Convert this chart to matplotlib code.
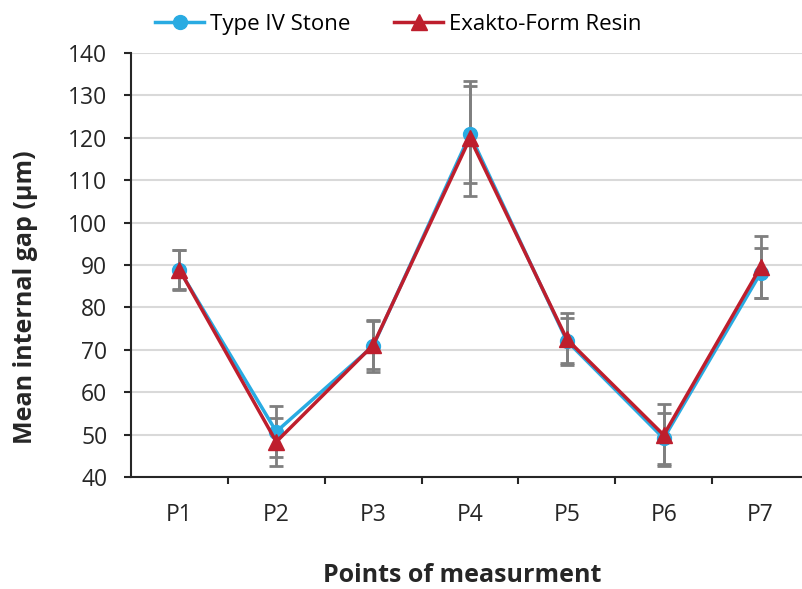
import numpy as np
import matplotlib.pyplot as plt
from matplotlib.ticker import FixedLocator

plt.rcParams['font.family'] = ['Open Sans', 'DejaVu Sans']

points = ['P1', 'P2', 'P3', 'P4', 'P5', 'P6', 'P7']
stone = [88.8, 50.7, 70.9, 120.8, 72.1, 49.1, 88.1]
stone_err = [4.7, 6.1, 6.1, 11.4, 5.3, 6.1, 5.8]
resin = [88.9, 48.3, 71.1, 119.9, 72.5, 49.9, 89.5]
resin_err = [4.6, 5.6, 5.6, 13.6, 6.1, 7.3, 7.3]

blue = '#29abe2'
red = '#be1e2d'
grey = '#7f7f7f'

fig = plt.figure(figsize=(8.03, 5.89), dpi=100)
ax = fig.add_axes([131 / 803, 1 - 477 / 589, 678 / 803, 424 / 589])

x = np.arange(len(points))

ax.errorbar(x, stone, yerr=stone_err, fmt='none', ecolor=grey, elinewidth=2,
            capsize=5, capthick=2, zorder=3)
ax.errorbar(x, resin, yerr=resin_err, fmt='none', ecolor=grey, elinewidth=2,
            capsize=5, capthick=2, zorder=3)
ax.plot(x, stone, color=blue, lw=2.5, marker='o', ms=10, label='Type IV Stone', zorder=4)
ax.plot(x, resin, color=red, lw=2.5, marker='^', ms=11, label='Exakto-Form Resin', zorder=5)

ax.set_xlim(-0.5, 6.5)
ax.set_ylim(40, 140)
ax.set_yticks(np.arange(40, 141, 10))
ax.set_xticks(x)
ax.set_xticklabels(points)
ax.xaxis.set_minor_locator(FixedLocator(np.arange(0.5, 6.5, 1)))
ax.tick_params(axis='x', which='major', length=0, pad=19, labelsize=16.5, colors='#262626')
ax.tick_params(axis='x', which='minor', length=5, width=1.5, direction='out', color='#262626')
ax.tick_params(axis='y', length=5, width=1.5, pad=12, labelsize=16.5, colors='#262626')

ax.grid(axis='y', color='#d9d9d9', lw=1.5)
ax.set_axisbelow(True)
for s in ['top', 'right']:
    ax.spines[s].set_visible(False)
for s in ['left', 'bottom']:
    ax.spines[s].set_color('#262626')
    ax.spines[s].set_linewidth(1.5)

ax.set_xlabel('Points of measurment', fontsize=18, fontweight='bold', color='#262626')
ax.set_ylabel('Mean internal gap (\u03bcm)', fontsize=18, fontweight='bold', color='#262626')
ax.xaxis.set_label_coords((462 - 131) / 678, -(576 - 477) / 424)
ax.yaxis.set_label_coords(-(131 - 25) / 678, (477 - 297) / 424)
ax.xaxis.label.set_va('center')
ax.yaxis.label.set_va('center')

fig.legend(loc='upper center', bbox_to_anchor=(0.496, 1.01), ncol=2, frameon=False,
           fontsize=16, handlelength=2.2, handletextpad=0.25, columnspacing=2.0)

fig.savefig('out.png', dpi=100)
